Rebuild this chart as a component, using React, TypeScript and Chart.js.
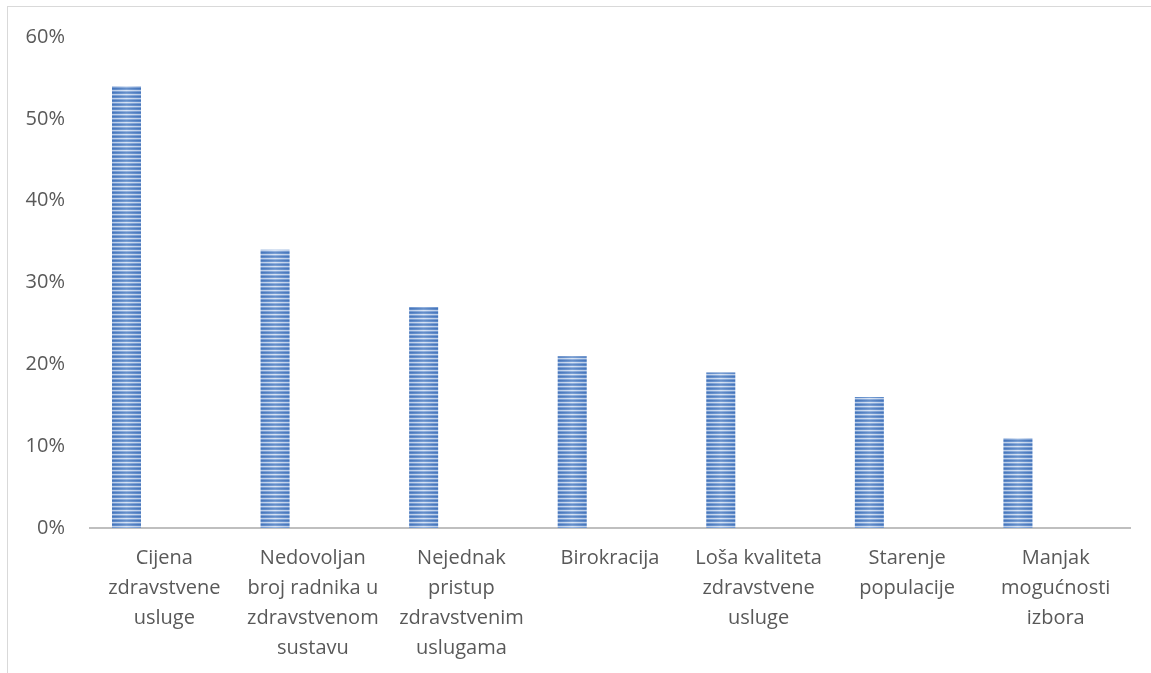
import React, { useEffect, useRef } from "react";
import { Chart, registerables } from "chart.js";

Chart.register(...registerables);

const categories: string[][] = [
  ["Cijena", "zdravstvene", "usluge"],
  ["Nedovoljan", "broj radnika u", "zdravstvenom", "sustavu"],
  ["Nejednak", "pristup", "zdravstvenim", "uslugama"],
  ["Birokracija"],
  ["Loša kvaliteta", "zdravstvene", "usluge"],
  ["Starenje", "populacije"],
  ["Manjak", "mogućnosti", "izbora"],
];
const values: number[] = [54, 34, 27, 21, 19, 16, 11];
const spacerA: number[] = [0, 0, 0, 0, 0, 0, 0];
const spacerB: number[] = [0, 0, 0, 0, 0, 0, 0];
const yTicks: number[] = [0, 10, 20, 30, 40, 50, 60];

const FONT = "'Open Sans', 'Noto Sans', sans-serif";
const TEXT = "#595959";

function makePattern(): CanvasPattern | string {
  const c = document.createElement("canvas");
  c.width = 4;
  c.height = 4;
  const ctx = c.getContext("2d");
  if (!ctx) return "#5b8bd0";
  const rows = ["#4677be", "#5e8ccb", "#d0def2", "#7ba1d6"];
  rows.forEach((col, i) => {
    ctx.fillStyle = col;
    ctx.fillRect(0, i, 4, 1);
  });
  const p = ctx.createPattern(c, "repeat");
  return p || "#5b8bd0";
}

const shadePlugin = {
  id: "shade",
  afterDatasetsDraw(chart: any) {
    const meta = chart.getDatasetMeta(0);
    const ctx = chart.ctx as CanvasRenderingContext2D;
    meta.data.forEach((bar: any) => {
      const { x, y, base, width } = bar.getProps(["x", "y", "base", "width"], true);
      const left = x - width / 2;
      const g = ctx.createLinearGradient(left, 0, left + width, 0);
      g.addColorStop(0, "rgba(60,100,170,0.15)");
      g.addColorStop(0.5, "rgba(255,255,255,0.18)");
      g.addColorStop(1, "rgba(60,100,170,0.15)");
      ctx.save();
      ctx.fillStyle = g;
      ctx.fillRect(left, y, width, base - y);
      ctx.restore();
    });
  },
};

export default function App() {
  const ref = useRef<HTMLCanvasElement | null>(null);

  useEffect(() => {
    if (!ref.current) return;
    const pattern = makePattern();
    const chart = new Chart(ref.current, {
      type: "bar",
      data: {
        labels: categories,
        datasets: [
          {
            data: values,
            backgroundColor: pattern as any,
            borderWidth: 0,
            categoryPercentage: 0.763,
            barPercentage: 0.767,
          },
          {
            data: spacerA,
            backgroundColor: "rgba(0,0,0,0)",
            borderWidth: 0,
            categoryPercentage: 0.763,
            barPercentage: 0.767,
          },
          {
            data: spacerB,
            backgroundColor: "rgba(0,0,0,0)",
            borderWidth: 0,
            categoryPercentage: 0.763,
            barPercentage: 0.767,
          },
        ],
      },
      options: {
        animation: false,
        responsive: false,
        devicePixelRatio: 1,
        layout: { padding: { top: 36, right: 21, left: 0, bottom: 0 } },
        plugins: {
          legend: { display: false },
          tooltip: { enabled: false },
        },
        scales: {
          x: {
            grid: { display: false, drawTicks: false },
            border: { display: true, color: "#bfbfbf", width: 2 },
            ticks: {
              autoSkip: false,
              maxRotation: 0,
              minRotation: 0,
              padding: 15,
              color: TEXT,
              font: { family: FONT, size: 20, lineHeight: 1.5 },
            },
            afterFit: (s: any) => {
              s.height = 145;
            },
          },
          y: {
            min: 0,
            max: 60,
            grid: { display: false, drawTicks: false },
            border: { display: false },
            afterBuildTicks: (s: any) => {
              s.ticks = yTicks.map((v) => ({ value: v }));
            },
            ticks: {
              padding: 25,
              color: TEXT,
              font: { family: FONT, size: 20 },
              callback: (v: any) => `${v}%`,
            },
            afterFit: (s: any) => {
              s.width = 90;
            },
          },
        },
      },
      plugins: [shadePlugin],
    });
    return () => chart.destroy();
  }, []);

  return (
    <div
      style={{
        position: "fixed",
        left: 0,
        top: 0,
        width: 1151,
        height: 673,
        overflow: "hidden",
        background: "#ffffff",
      }}
    >
      <div
        style={{
          position: "absolute",
          left: 7,
          top: 6,
          width: 1300,
          height: 800,
          borderTop: "1.5px solid #d9d9d9",
          borderLeft: "1.5px solid #d9d9d9",
        }}
      />
      <canvas
        ref={ref}
        width={1151}
        height={673}
        style={{ position: "absolute", left: 0, top: 0, width: 1151, height: 673 }}
      />
    </div>
  );
}
